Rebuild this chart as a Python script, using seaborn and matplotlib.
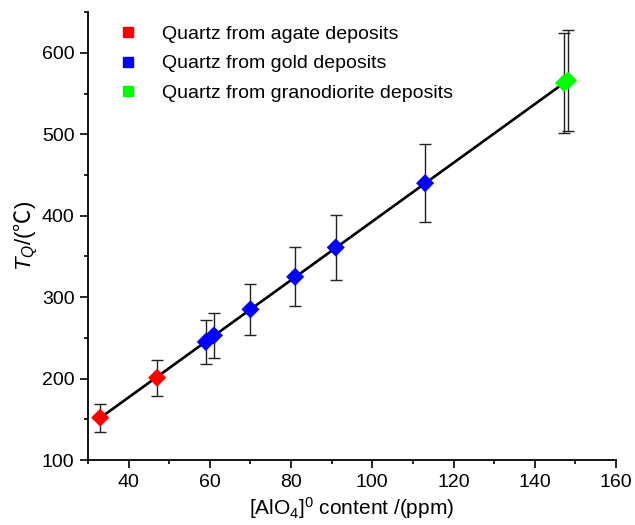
import numpy as np
import pandas as pd
import matplotlib
matplotlib.use("Agg")
import matplotlib.pyplot as plt
from matplotlib.lines import Line2D
from matplotlib.ticker import MultipleLocator
import seaborn as sns

# ---- data ----
groups = ["Quartz from agate deposits", "Quartz from gold deposits",
          "Quartz from granodiorite deposits"]
agate_x = [33, 47]
agate_y = [152, 201]
agate_err = [17, 22]
gold_x = [59, 61, 70, 81, 91, 113]
gold_y = [245, 253, 285, 325, 361, 440]
gold_err = [27, 28, 31, 36, 40, 48]
grano_x = [147.2, 148.2]
grano_y = [563, 566]
grano_err = [62, 62]
colors = ["#ff0000", "#0000ff", "#00ff00"]

df = pd.DataFrame({
    "x": agate_x + gold_x + grano_x,
    "y": agate_y + gold_y + grano_y,
    "err": agate_err + gold_err + grano_err,
    "group": [groups[0]] * len(agate_x) + [groups[1]] * len(gold_x) + [groups[2]] * len(grano_x),
})

sns.set_theme(style="ticks")
plt.rcParams["font.family"] = ["Liberation Sans", "DejaVu Sans", "Noto Sans CJK SC"]
plt.rcParams["mathtext.fontset"] = "custom"
plt.rcParams["mathtext.it"] = "Liberation Sans:italic"
plt.rcParams["mathtext.rm"] = "Liberation Sans"
plt.rcParams["mathtext.sf"] = "Noto Sans CJK SC"
plt.rcParams["text.color"] = "black"
plt.rcParams["axes.labelcolor"] = "black"
plt.rcParams["xtick.color"] = "black"
plt.rcParams["ytick.color"] = "black"

fig = plt.figure(figsize=(6.35, 5.25), dpi=100)
ax = fig.add_axes([0.1386, 0.1238, 0.8314, 0.853])

# fit line
sns.regplot(data=df, x="x", y="y", scatter=False, ci=None, truncate=True,
            line_kws=dict(color="black", lw=1.9, zorder=2), ax=ax)

# error bars
ax.errorbar(df["x"], df["y"], yerr=df["err"], fmt="none", ecolor="#222222",
            elinewidth=1.0, capsize=4, capthick=1.0, zorder=3)

# points
sns.scatterplot(data=df, x="x", y="y", hue="group", palette=dict(zip(groups, colors)),
                marker="D", s=85, linewidth=0, legend=False, zorder=4, ax=ax)

ax.set_xlim(30, 160)
ax.set_ylim(100, 650)
ax.xaxis.set_major_locator(MultipleLocator(20))
ax.xaxis.set_minor_locator(MultipleLocator(10))
ax.yaxis.set_major_locator(MultipleLocator(100))
ax.yaxis.set_minor_locator(MultipleLocator(50))
ax.tick_params(which="major", direction="out", length=5.8, width=1.2, labelsize=14,
               color="black", pad=4)
ax.tick_params(which="minor", direction="out", length=3.2, width=1.2, color="black")
for s in ["top", "right"]:
    ax.spines[s].set_visible(False)
for s in ["left", "bottom"]:
    ax.spines[s].set_linewidth(1.3)
    ax.spines[s].set_color("black")

ax.set_xlabel(r"[AlO$_{\mathregular{4}}$]$^{\mathregular{0}}$ content /(ppm)", fontsize=15, labelpad=3)
ax.set_ylabel(r"$T_Q$/($\mathsf{℃}$)", fontsize=16, labelpad=1)

handles = [Line2D([], [], marker="s", ls="none", color=c, markersize=7) for c in colors]
ax.legend(handles, groups, loc="upper left", bbox_to_anchor=(0.017, 0.997), frameon=False,
          fontsize=14, handletextpad=0.75, labelspacing=0.62, borderaxespad=0.2)

fig.savefig("out.png", dpi=100)
